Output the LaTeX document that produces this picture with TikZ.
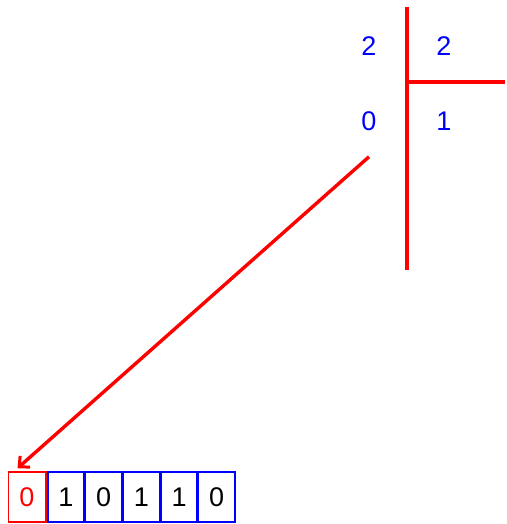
\documentclass[tikz,border=0pt]{standalone}
\usepackage{fontspec}
\setmainfont{Liberation Sans}
\usetikzlibrary{positioning,arrows.meta}
\definecolor{hot}{HTML}{ff0000}
\definecolor{cool}{HTML}{0000ff}

\begin{document}
\begin{tikzpicture}[x=1pt,y=-1pt,
  font=\fontsize{27}{30}\selectfont,
  num/.style={text=cool,inner sep=0pt},
  cell/.style={draw=cool,line width=1.5pt,minimum width=36.2pt,minimum height=50pt,inner sep=0pt},
  first/.style={cell,draw=hot,text=hot,minimum width=37.5pt},
  bar/.style={draw=hot,line width=3.4pt},
  arr/.style={-{Straight Barb[length=8pt,width=15pt,line width=3pt]},draw=hot,line width=3.4pt}]
  \useasboundingbox (0,0) rectangle (506,524);
  % division layout
  \node[num] (q1) at (369,46) {2};
  \node[num] (q2) at (444,46) {2};
  \node[num] (r1) at (369,121) {0};
  \node[num] (r2) at (444,121) {1};
  \draw[bar] (407,7) -- (407,270);
  \draw[bar] (407,82) -- (505,82);
  % result cells
  \node[first] (c0) at (27,497) {0};
  \node[cell,right=0.6pt of c0] (c1) {1};
  \node[cell,right=0pt of c1] (c2) {0};
  \node[cell,right=0pt of c2] (c3) {1};
  \node[cell,right=0pt of c3] (c4) {1};
  \node[cell,right=0pt of c4] (c5) {0};
  \coordinate (from) at ([yshift=-26pt]r1.south);
  \coordinate (tip) at ([xshift=10pt,yshift=3pt]c0.north west);
  \draw[arr] (from) -- (tip);
\end{tikzpicture}
\end{document}
